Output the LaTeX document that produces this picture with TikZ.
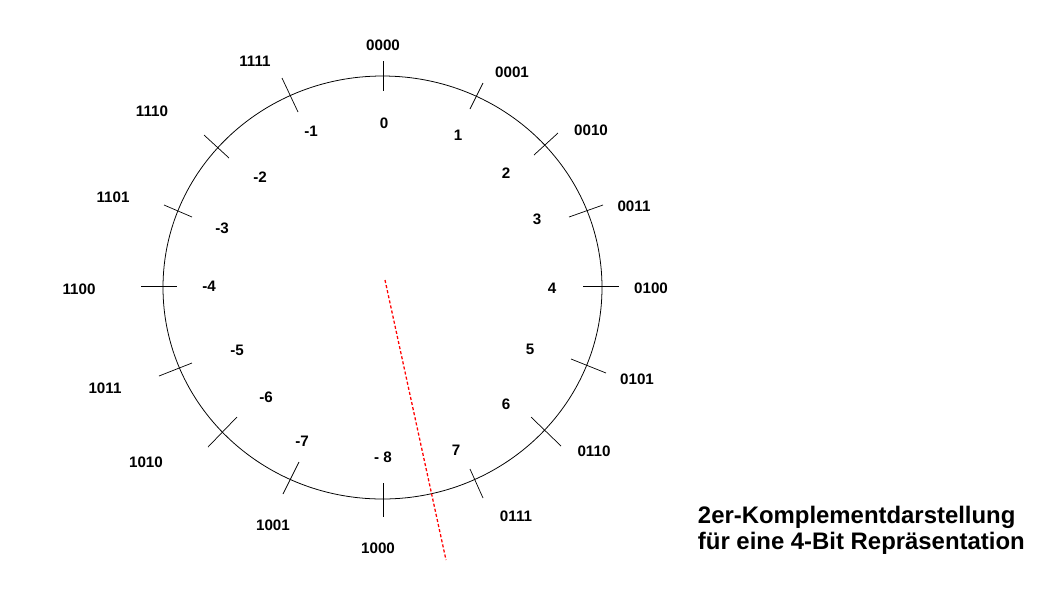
\documentclass[tikz,border=0pt]{standalone}
\usepackage{fontspec}
\setmainfont{Liberation Sans}
\usetikzlibrary{positioning}

\tikzset{
  bits/.style={font=\fontsize{10.8}{12}\selectfont\bfseries},
  wert/.style={font=\fontsize{10.8}{12}\selectfont\bfseries},
  tick/.style={line width=0.5pt},
}

\begin{document}
\begin{tikzpicture}[x=0.025cm,y=-0.025cm]
\useasboundingbox (0,0) rectangle (1058,595);
\coordinate (m) at (382.5,287.5);
\draw[line width=0.55pt] (m) ellipse [x radius=219.5,y radius=211.5];
% Striche
\draw[tick] (383,61) -- (383,91);
\draw[tick] (483,83) -- (470,109);
\draw[tick] (558,133) -- (534,155);
\draw[tick] (603,205) -- (569,217);
\draw[tick] (583,286) -- (619,286);
\draw[tick] (571,359) -- (606,373);
\draw[tick] (531,417) -- (561,446);
\draw[tick] (470,469) -- (483,498);
\draw[tick] (383,483) -- (383,517);
\draw[tick] (299,462) -- (283,494);
\draw[tick] (237,417) -- (208,447);
\draw[tick] (192,363) -- (159,376);
\draw[tick] (141,286) -- (177,286);
\draw[tick] (164,205) -- (192,217);
\draw[tick] (204,135) -- (229,158);
\draw[tick] (282,78) -- (298,112);
% Bitmuster
\node[bits] (b0) at (383,45) {0000};
\node[bits] (b1) at (512,72) {0001};
\node[bits] (b2) at (591,130) {0010};
\node[bits] (b3) at (634,206) {0011};
\node[bits] (b4) at (651,288) {0100};
\node[bits] (b5) at (637,379) {0101};
\node[bits] (b6) at (594,451) {0110};
\node[bits] (b7) at (516,516) {0111};
\node[bits] (b8) at (378,548) {1000};
\node[bits] (b9) at (273,525) {1001};
\node[bits] (b10) at (146,462) {1010};
\node[bits] (b11) at (105,388) {1011};
\node[bits] (b12) at (79,289) {1100};
\node[bits] (b13) at (113,197) {1101};
\node[bits] (b14) at (152,111) {1110};
\node[bits] (b15) at (255,61) {1111};
% Werte
\node[wert] (w0) at (384,123) {0};
\node[wert] (w1) at (458,135) {1};
\node[wert] (w2) at (506,173) {2};
\node[wert] (w3) at (537,219) {3};
\node[wert] (w4) at (552,288) {4};
\node[wert] (w5) at (530,349) {5};
\node[wert] (w6) at (506,404) {6};
\node[wert] (w7) at (456,450) {7};
\node[wert] (w8) at (383,457) {- 8};
\node[wert] (w9) at (302,441) {-7};
\node[wert] (w10) at (266,397) {-6};
\node[wert] (w11) at (237,350) {-5};
\node[wert] (w12) at (209,286) {-4};
\node[wert] (w13) at (222,228) {-3};
\node[wert] (w14) at (260,177) {-2};
\node[wert] (w15) at (311,131) {-1};
% Grenze
\coordinate (g1) at (385,280);
\coordinate (g2) at (446,560);
\draw[red,line width=0.9pt,dash pattern=on 2.2pt off 1.5pt] (g1) -- (g2);
\node[anchor=west,align=left,font=\fontsize{17}{18.6}\selectfont\bfseries] (titel) at (693,530)
  {2er-Komplementdarstellung\\f\"ur eine 4-Bit Repr\"asentation};
\end{tikzpicture}
\end{document}
